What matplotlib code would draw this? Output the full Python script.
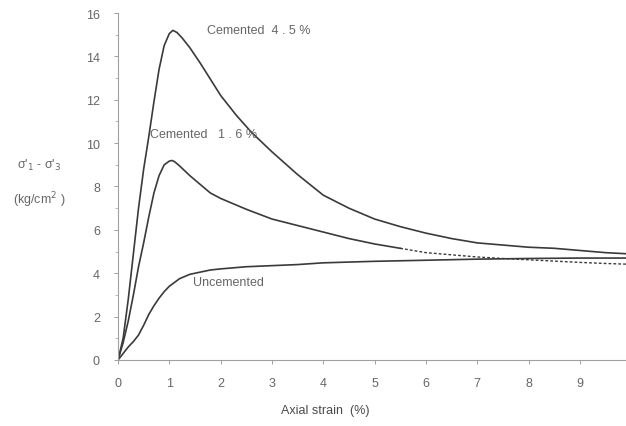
import matplotlib
matplotlib.use("Agg")
import matplotlib.pyplot as plt

plt.rcParams['font.family'] = ['Liberation Sans', 'DejaVu Sans']

# curves (axial strain %, deviator stress kg/cm2)
strain_45 = [0, 0.1, 0.2, 0.3, 0.4, 0.5, 0.6, 0.7, 0.8, 0.9, 1.0, 1.07, 1.15, 1.25, 1.4, 1.6,
             1.8, 2.0, 2.3, 2.6, 3.0, 3.5, 4.0, 4.5, 5.0, 5.5, 6.0, 6.5, 7.0, 7.5, 8.0, 8.5, 9.0, 9.5, 9.9]
stress_45 = [0, 1.0, 2.8, 4.9, 7.0, 8.8, 10.3, 11.9, 13.4, 14.5, 15.05, 15.2, 15.1, 14.85, 14.4, 13.7,
             12.95, 12.2, 11.3, 10.5, 9.6, 8.55, 7.6, 7.0, 6.5, 6.15, 5.85, 5.6, 5.4, 5.3, 5.2, 5.15, 5.05, 4.95, 4.9]

strain_16 = [0, 0.1, 0.2, 0.3, 0.4, 0.5, 0.6, 0.7, 0.8, 0.9, 1.0, 1.05, 1.1, 1.2, 1.4, 1.6,
             1.8, 2.0, 2.5, 3.0, 3.5, 4.0, 4.5, 5.0, 5.5]
stress_16 = [0, 0.8, 1.8, 3.0, 4.3, 5.4, 6.6, 7.7, 8.5, 9.0, 9.17, 9.2, 9.15, 8.95, 8.5, 8.1,
             7.7, 7.45, 6.95, 6.5, 6.2, 5.9, 5.6, 5.35, 5.15]
strain_16_dot = [5.5, 6.0, 6.5, 7.0, 7.5, 8.0, 8.5, 9.0, 9.5, 9.9]
stress_16_dot = [5.15, 4.95, 4.85, 4.75, 4.68, 4.62, 4.56, 4.5, 4.45, 4.42]

strain_un = [0, 0.1, 0.2, 0.3, 0.4, 0.5, 0.6, 0.7, 0.8, 0.9, 1.0, 1.2, 1.4, 1.6, 1.8, 2.0,
             2.5, 3.0, 3.5, 4.0, 5.0, 6.0, 7.0, 8.0, 9.0, 9.9]
stress_un = [0, 0.3, 0.6, 0.85, 1.15, 1.6, 2.1, 2.5, 2.85, 3.15, 3.4, 3.75, 3.95, 4.05, 4.15, 4.2,
             4.3, 4.35, 4.4, 4.48, 4.55, 4.6, 4.65, 4.68, 4.7, 4.7]

x_ticks = list(range(0, 10))
y_ticks = list(range(0, 17, 2))

line_col = '#3a3a3a'
text_col = '#666666'

fig = plt.figure(figsize=(6.26, 4.27), dpi=100)
ax = fig.add_axes([0.1885, 0.1546, 0.8115, 0.8126])

ax.plot(strain_45, stress_45, color=line_col, lw=1.2)
ax.plot(strain_16, stress_16, color=line_col, lw=1.2)
ax.plot(strain_16_dot, stress_16_dot, color=line_col, lw=1.0, ls=(0, (2, 1.5)))
ax.plot(strain_un, stress_un, color=line_col, lw=1.2)

ax.set_xlim(0, 9.9)
ax.set_ylim(0, 16)
ax.set_xticks(x_ticks)
ax.set_yticks(y_ticks)
ax.set_yticks(range(0, 17), minor=True)
for s in ['top', 'right']:
    ax.spines[s].set_visible(False)
for s in ['left', 'bottom']:
    ax.spines[s].set_color('#a0a0a0')
    ax.spines[s].set_linewidth(0.8)
ax.tick_params(colors='#a0a0a0', labelcolor=text_col, labelsize=9, length=3, width=0.7)
ax.tick_params(which='minor', length=2, colors='#b0b0b0')
ax.tick_params(axis='x', pad=9)
ax.tick_params(axis='y', pad=10)

ax.text(1.73, 15.2, 'Cemented  4 . 5 %', color=text_col, fontsize=9, va='center')
ax.text(0.62, 10.4, 'Cemented   1 . 6 %', color=text_col, fontsize=9, va='center')
ax.text(1.46, 3.6, 'Uncemented', color=text_col, fontsize=9, va='center')

fig.text(0.063, 0.612, "σ'$_1$ - σ'$_3$", color=text_col, fontsize=9, ha='center', va='center')
fig.text(0.063, 0.53, '(kg/cm$^2$ )', color=text_col, fontsize=9, ha='center', va='center')
fig.text(0.52, 0.037, 'Axial strain  (%)', color='#4a4a4a', fontsize=9, ha='center', va='center')

fig.savefig('out.png', dpi=100)
